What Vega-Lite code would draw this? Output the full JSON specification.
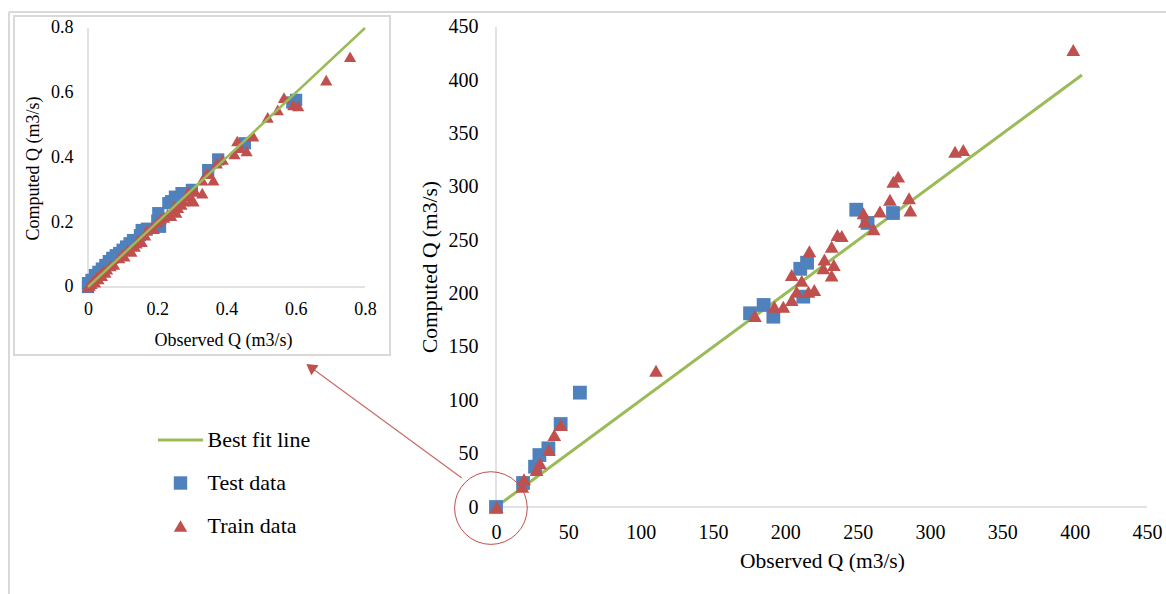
{
  "$schema": "https://vega.github.io/schema/vega-lite/v6.json",
  "width": 1157,
  "height": 582,
  "autosize": {"type": "none"},
  "padding": {"left": 9, "top": 12, "right": 0, "bottom": 0},
  "background": "white",
  "config": {
    "view": {"stroke": null},
    "axis": {"grid": false, "domain": false, "ticks": false, "labelFont": "Liberation Serif", "titleFont": "Liberation Serif", "labelColor": "#000", "titleColor": "#000", "titleFontWeight": "normal"},
    "legend": {"orient": "none", "legendX": 160.5, "legendY": 417, "title": null, "symbolSize": 180, "symbolOpacity": 1, "symbolStrokeWidth": 0, "labelOffset": 16, "rowPadding": 21, "padding": 0, "labelFont": "Liberation Serif", "labelFontSize": 22, "labelColor": "#000", "labelLimit": 0}
  },
  "datasets": {
    "main": [
      {"x": 0, "y": 0, "series": "Test data"},
      {"x": 18.7, "y": 22.5, "series": "Test data"},
      {"x": 27, "y": 37.8, "series": "Test data"},
      {"x": 30, "y": 48.7, "series": "Test data"},
      {"x": 36.2, "y": 55, "series": "Test data"},
      {"x": 44.7, "y": 77.8, "series": "Test data"},
      {"x": 58, "y": 107.2, "series": "Test data"},
      {"x": 175.6, "y": 181.6, "series": "Test data"},
      {"x": 185, "y": 189.4, "series": "Test data"},
      {"x": 191.7, "y": 178.4, "series": "Test data"},
      {"x": 212.4, "y": 197.2, "series": "Test data"},
      {"x": 210.3, "y": 223.3, "series": "Test data"},
      {"x": 215, "y": 229, "series": "Test data"},
      {"x": 249, "y": 278.7, "series": "Test data"},
      {"x": 256.8, "y": 266.3, "series": "Test data"},
      {"x": 274.4, "y": 275.6, "series": "Test data"},
      {"x": 0.5, "y": 0, "series": "Train data"},
      {"x": 18.2, "y": 19, "series": "Train data"},
      {"x": 19.4, "y": 26, "series": "Train data"},
      {"x": 28, "y": 34.7, "series": "Train data"},
      {"x": 30.4, "y": 41, "series": "Train data"},
      {"x": 36.6, "y": 53.4, "series": "Train data"},
      {"x": 40.3, "y": 67.5, "series": "Train data"},
      {"x": 44.7, "y": 76.9, "series": "Train data"},
      {"x": 110.6, "y": 127.8, "series": "Train data"},
      {"x": 179, "y": 179, "series": "Train data"},
      {"x": 192.4, "y": 187.8, "series": "Train data"},
      {"x": 198.6, "y": 187.8, "series": "Train data"},
      {"x": 204.4, "y": 194, "series": "Train data"},
      {"x": 207.8, "y": 201.8, "series": "Train data"},
      {"x": 204.4, "y": 217.5, "series": "Train data"},
      {"x": 211.3, "y": 212, "series": "Train data"},
      {"x": 216, "y": 201.8, "series": "Train data"},
      {"x": 220, "y": 203.4, "series": "Train data"},
      {"x": 216.6, "y": 239.8, "series": "Train data"},
      {"x": 226.3, "y": 223.8, "series": "Train data"},
      {"x": 227, "y": 232, "series": "Train data"},
      {"x": 232, "y": 244, "series": "Train data"},
      {"x": 233.5, "y": 226.9, "series": "Train data"},
      {"x": 232, "y": 217, "series": "Train data"},
      {"x": 236, "y": 255, "series": "Train data"},
      {"x": 239, "y": 254, "series": "Train data"},
      {"x": 254, "y": 275.3, "series": "Train data"},
      {"x": 255, "y": 267.5, "series": "Train data"},
      {"x": 261, "y": 260.3, "series": "Train data"},
      {"x": 265.4, "y": 277, "series": "Train data"},
      {"x": 272.3, "y": 288, "series": "Train data"},
      {"x": 274.6, "y": 305, "series": "Train data"},
      {"x": 278, "y": 309.7, "series": "Train data"},
      {"x": 285.5, "y": 289.4, "series": "Train data"},
      {"x": 286.4, "y": 278, "series": "Train data"},
      {"x": 317.3, "y": 333, "series": "Train data"},
      {"x": 323, "y": 334.7, "series": "Train data"},
      {"x": 399, "y": 428.4, "series": "Train data"}
    ],
    "inset": [
      {"x": 0.0, "y": 0.0, "series": "Test data"},
      {"x": 0.0, "y": 0.012, "series": "Test data"},
      {"x": 0.01, "y": 0.022, "series": "Test data"},
      {"x": 0.02, "y": 0.037, "series": "Test data"},
      {"x": 0.03, "y": 0.047, "series": "Test data"},
      {"x": 0.04, "y": 0.057, "series": "Test data"},
      {"x": 0.05, "y": 0.068, "series": "Test data"},
      {"x": 0.06, "y": 0.08, "series": "Test data"},
      {"x": 0.07, "y": 0.09, "series": "Test data"},
      {"x": 0.08, "y": 0.098, "series": "Test data"},
      {"x": 0.09, "y": 0.105, "series": "Test data"},
      {"x": 0.1, "y": 0.115, "series": "Test data"},
      {"x": 0.11, "y": 0.125, "series": "Test data"},
      {"x": 0.12, "y": 0.135, "series": "Test data"},
      {"x": 0.13, "y": 0.145, "series": "Test data"},
      {"x": 0.15, "y": 0.16, "series": "Test data"},
      {"x": 0.155, "y": 0.176, "series": "Test data"},
      {"x": 0.17, "y": 0.18, "series": "Test data"},
      {"x": 0.2, "y": 0.205, "series": "Test data"},
      {"x": 0.203, "y": 0.228, "series": "Test data"},
      {"x": 0.208, "y": 0.186, "series": "Test data"},
      {"x": 0.232, "y": 0.259, "series": "Test data"},
      {"x": 0.24, "y": 0.265, "series": "Test data"},
      {"x": 0.251, "y": 0.279, "series": "Test data"},
      {"x": 0.27, "y": 0.29, "series": "Test data"},
      {"x": 0.3, "y": 0.3, "series": "Test data"},
      {"x": 0.347, "y": 0.361, "series": "Test data"},
      {"x": 0.376, "y": 0.394, "series": "Test data"},
      {"x": 0.453, "y": 0.444, "series": "Test data"},
      {"x": 0.59, "y": 0.57, "series": "Test data"},
      {"x": 0.601, "y": 0.578, "series": "Test data"},
      {"x": 0.0, "y": 0.0, "series": "Train data"},
      {"x": 0.005, "y": 0.005, "series": "Train data"},
      {"x": 0.01, "y": 0.01, "series": "Train data"},
      {"x": 0.015, "y": 0.02, "series": "Train data"},
      {"x": 0.02, "y": 0.015, "series": "Train data"},
      {"x": 0.025, "y": 0.03, "series": "Train data"},
      {"x": 0.03, "y": 0.025, "series": "Train data"},
      {"x": 0.035, "y": 0.04, "series": "Train data"},
      {"x": 0.04, "y": 0.035, "series": "Train data"},
      {"x": 0.045, "y": 0.05, "series": "Train data"},
      {"x": 0.05, "y": 0.045, "series": "Train data"},
      {"x": 0.055, "y": 0.055, "series": "Train data"},
      {"x": 0.065, "y": 0.065, "series": "Train data"},
      {"x": 0.075, "y": 0.07, "series": "Train data"},
      {"x": 0.09, "y": 0.09, "series": "Train data"},
      {"x": 0.1, "y": 0.1, "series": "Train data"},
      {"x": 0.105, "y": 0.095, "series": "Train data"},
      {"x": 0.115, "y": 0.115, "series": "Train data"},
      {"x": 0.125, "y": 0.11, "series": "Train data"},
      {"x": 0.135, "y": 0.125, "series": "Train data"},
      {"x": 0.14, "y": 0.135, "series": "Train data"},
      {"x": 0.145, "y": 0.145, "series": "Train data"},
      {"x": 0.155, "y": 0.14, "series": "Train data"},
      {"x": 0.165, "y": 0.16, "series": "Train data"},
      {"x": 0.17, "y": 0.175, "series": "Train data"},
      {"x": 0.185, "y": 0.185, "series": "Train data"},
      {"x": 0.19, "y": 0.18, "series": "Train data"},
      {"x": 0.2, "y": 0.2, "series": "Train data"},
      {"x": 0.21, "y": 0.21, "series": "Train data"},
      {"x": 0.22, "y": 0.215, "series": "Train data"},
      {"x": 0.23, "y": 0.225, "series": "Train data"},
      {"x": 0.24, "y": 0.22, "series": "Train data"},
      {"x": 0.245, "y": 0.235, "series": "Train data"},
      {"x": 0.25, "y": 0.25, "series": "Train data"},
      {"x": 0.255, "y": 0.23, "series": "Train data"},
      {"x": 0.26, "y": 0.245, "series": "Train data"},
      {"x": 0.27, "y": 0.255, "series": "Train data"},
      {"x": 0.275, "y": 0.265, "series": "Train data"},
      {"x": 0.285, "y": 0.28, "series": "Train data"},
      {"x": 0.29, "y": 0.295, "series": "Train data"},
      {"x": 0.3, "y": 0.27, "series": "Train data"},
      {"x": 0.305, "y": 0.265, "series": "Train data"},
      {"x": 0.31, "y": 0.295, "series": "Train data"},
      {"x": 0.33, "y": 0.29, "series": "Train data"},
      {"x": 0.33, "y": 0.33, "series": "Train data"},
      {"x": 0.343, "y": 0.351, "series": "Train data"},
      {"x": 0.35, "y": 0.35, "series": "Train data"},
      {"x": 0.362, "y": 0.33, "series": "Train data"},
      {"x": 0.372, "y": 0.382, "series": "Train data"},
      {"x": 0.389, "y": 0.394, "series": "Train data"},
      {"x": 0.423, "y": 0.411, "series": "Train data"},
      {"x": 0.431, "y": 0.451, "series": "Train data"},
      {"x": 0.44, "y": 0.43, "series": "Train data"},
      {"x": 0.458, "y": 0.42, "series": "Train data"},
      {"x": 0.477, "y": 0.466, "series": "Train data"},
      {"x": 0.519, "y": 0.524, "series": "Train data"},
      {"x": 0.548, "y": 0.547, "series": "Train data"},
      {"x": 0.566, "y": 0.585, "series": "Train data"},
      {"x": 0.593, "y": 0.562, "series": "Train data"},
      {"x": 0.607, "y": 0.559, "series": "Train data"},
      {"x": 0.688, "y": 0.639, "series": "Train data"},
      {"x": 0.757, "y": 0.711, "series": "Train data"}
    ],
    "mainLine": [{"x": 0, "y": 0}, {"x": 405, "y": 405}],
    "mainAxes": [{"x": 0, "y": 0, "x2": 450, "y2": 0}, {"x": 0, "y": 0, "x2": 0, "y2": 450}],
    "outerFrame": [{"x": -336.6, "y": 464.05, "x2": 463.1, "y2": 464.05}, {"x": -336.6, "y": 464.05, "x2": -336.6, "y2": -81.56}],
    "zoomCircle": [{"x": -3.5, "y": -1}],
    "arrow": [{"x": -23.6, "y": 27.2, "x2": -128.1, "y2": 131.1}],
    "arrowHead": [{"x": -128.1, "y": 131.1}],
    "insetLine": [{"x": 0, "y": 0}, {"x": 0.8, "y": 0.8}],
    "insetAxes": [{"x": 0, "y": 0, "x2": 0.8, "y2": 0}, {"x": 0, "y": 0, "x2": 0, "y2": 0.8}],
    "insetFrame": [{"x": -0.2137, "y": -0.21, "x2": 0.8722, "y2": 0.837}]
  },
  "layer": [
    {
      "encoding": {
        "x": {"field": "x", "type": "quantitative",
          "scale": {"domain": [-336.6, 463.1], "nice": false, "zero": false},
          "axis": {"orient": "bottom", "values": [0, 50, 100, 150, 200, 250, 300, 350, 400, 450], "format": "d", "offset": -87, "labelFontSize": 20, "labelPadding": 15, "title": "Observed Q (m3/s)", "titleFontSize": 21.5, "titleX": 813, "titleY": 60, "titleBaseline": "alphabetic"}},
        "y": {"field": "y", "type": "quantitative",
          "scale": {"domain": [-81.56, 464.05], "nice": false, "zero": false},
          "axis": {"orient": "left", "values": [0, 50, 100, 150, 200, 250, 300, 350, 400, 450], "format": "d", "offset": -487, "labelFontSize": 20, "labelPadding": 18, "title": "Computed Q (m3/s)", "titleFontSize": 21.5, "titleX": -60, "titleY": 254.5, "titleBaseline": "alphabetic", "titleAngle": -90}}
      },
      "layer": [
        {"data": {"name": "outerFrame"}, "mark": {"type": "rule", "color": "#d9d9d9", "strokeWidth": 2},
          "encoding": {"x2": {"field": "x2"}, "y2": {"field": "y2"}}},
        {"data": {"name": "mainAxes"}, "mark": {"type": "rule", "color": "#d9d9d9", "strokeWidth": 1.5},
          "encoding": {"x2": {"field": "x2"}, "y2": {"field": "y2"}}},
        {"data": {"name": "mainLine"}, "mark": {"type": "line", "color": "#9BBB59", "strokeWidth": 3}, "encoding": {}},
        {"data": {"name": "main"}, "mark": {"type": "point", "filled": true, "opacity": 1, "size": 190},
          "encoding": {
            "color": {"field": "series", "type": "nominal",
              "scale": {"domain": ["Best fit line", "Test data", "Train data"], "range": ["#9BBB59", "#4F81BD", "#C0504D"]}},
            "shape": {"field": "series", "type": "nominal",
              "scale": {"domain": ["Best fit line", "Test data", "Train data"], "range": ["M-3.36,-0.23H3.36V0.23H-3.36Z", "square", "triangle-up"]}}
          }
        },
        {"data": {"name": "zoomCircle"}, "mark": {"type": "point", "shape": "circle", "filled": false, "color": "#C0504D", "strokeWidth": 1, "size": 5281, "opacity": 1}, "encoding": {}},
        {"data": {"name": "arrow"}, "mark": {"type": "rule", "color": "#C0504D", "strokeWidth": 1.2, "opacity": 0.85},
          "encoding": {"x2": {"field": "x2"}, "y2": {"field": "y2"}}},
        {"data": {"name": "arrowHead"}, "mark": {"type": "point", "shape": "triangle-up", "filled": true, "color": "#C0504D", "size": 150, "angle": 306, "opacity": 1}, "encoding": {}}
      ]
    },
    {
      "encoding": {
        "x": {"field": "x", "type": "quantitative",
          "scale": {"domain": [-0.2282, 3.1134], "nice": false, "zero": false},
          "axis": {"orient": "bottom", "values": [0, 0.2, 0.4, 0.6, 0.8], "format": "~g", "offset": -307, "labelFontSize": 18, "labelPadding": 13, "title": "Observed Q (m3/s)", "titleFontSize": 18, "titleX": 214, "titleY": 58, "titleBaseline": "alphabetic"}},
        "y": {"field": "y", "type": "quantitative",
          "scale": {"domain": [-0.9483, 0.8494], "nice": false, "zero": false},
          "axis": {"orient": "left", "values": [0, 0.2, 0.4, 0.6, 0.8], "format": "~g", "offset": -79, "labelFontSize": 18, "labelPadding": 15, "title": "Computed Q (m3/s)", "titleFontSize": 18, "titleX": -50, "titleY": 156, "titleBaseline": "alphabetic", "titleAngle": -90}}
      },
      "layer": [
        {"data": {"name": "insetFrame"}, "mark": {"type": "rect", "filled": false, "color": "#d9d9d9", "strokeWidth": 2},
          "encoding": {"x2": {"field": "x2"}, "y2": {"field": "y2"}}},
        {"data": {"name": "insetAxes"}, "mark": {"type": "rule", "color": "#d9d9d9", "strokeWidth": 1.5},
          "encoding": {"x2": {"field": "x2"}, "y2": {"field": "y2"}}},
        {"data": {"name": "inset"}, "mark": {"type": "point", "filled": true, "opacity": 1, "size": 150},
          "encoding": {
            "color": {"field": "series", "type": "nominal",
              "scale": {"domain": ["Best fit line", "Test data", "Train data"], "range": ["#9BBB59", "#4F81BD", "#C0504D"]}},
            "shape": {"field": "series", "type": "nominal",
              "scale": {"domain": ["Best fit line", "Test data", "Train data"], "range": ["M-3.36,-0.23H3.36V0.23H-3.36Z", "square", "triangle-up"]}}
          }
        },
        {"data": {"name": "insetLine"}, "mark": {"type": "line", "color": "#9BBB59", "strokeWidth": 2.5}, "encoding": {}}
      ]
    }
  ],
  "resolve": {"scale": {"x": "independent", "y": "independent"}}
}
